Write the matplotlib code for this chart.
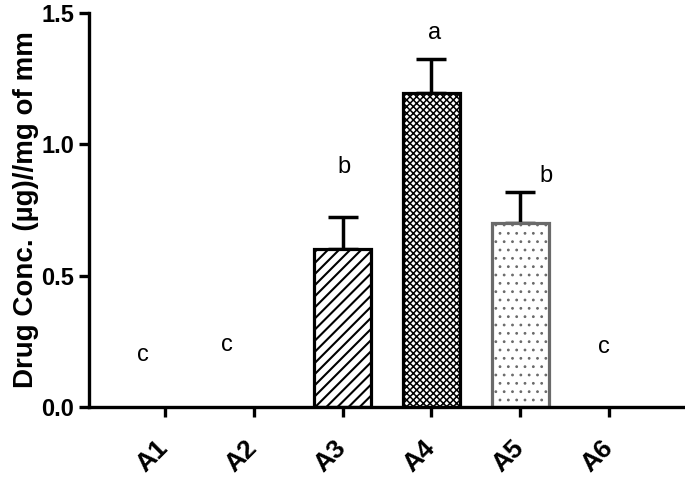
import matplotlib
matplotlib.use("Agg")
import matplotlib.pyplot as plt
import numpy as np

# data
groups = ["A1", "A2", "A3", "A4", "A5", "A6"]
means = [0.0, 0.0, 0.60, 1.195, 0.70, 0.0]
sd_up = [0.0, 0.0, 0.125, 0.13, 0.12, 0.0]
letters = ["c", "c", "b", "a", "b", "c"]
letter_x = [-0.24, 0.70, 2.02, 3.03, 4.29, 4.94]
letter_y = [0.20, 0.235, 0.915, 1.425, 0.88, 0.23]

plt.rcParams['font.family'] = ['Liberation Sans', 'DejaVu Sans']

fig = plt.figure(figsize=(6.85, 4.79), dpi=100)
ax = fig.add_axes([0.130, 0.150, 0.870, 0.823])

x = np.arange(len(groups))
# fill style per group: (face, edge, hatch, hatch line width)
styles = {
    "A3": ("white", "black", "///", 1.5),
    "A4": ("white", "black", "xxxxx", 1.1),
    "A5": ("white", "#6a6a6a", "..", 0.8),
}
for i, g in enumerate(groups):
    if means[i] <= 0:
        continue
    fc, ec, htch, hlw = styles[g]
    with plt.rc_context({"hatch.linewidth": hlw}):
        ax.bar(x[i], means[i], width=0.65, linewidth=2.3, zorder=2,
               facecolor=fc, edgecolor=ec, hatch=htch)
    ax.errorbar(x[i], means[i], yerr=[[0], [sd_up[i]]], fmt="none",
                ecolor="black", elinewidth=2.5, capsize=10.5, capthick=2.5, zorder=1)

for lx, ly, t in zip(letter_x, letter_y, letters):
    ax.text(lx, ly, t, fontsize=17, ha="center", va="center")

ax.set_xlim(-0.85, 5.85)
ax.set_ylim(0, 1.5)
ax.set_yticks([0.0, 0.5, 1.0, 1.5])
ax.set_yticklabels(["0.0", "0.5", "1.0", "1.5"])
ax.set_xticks(x)
ax.set_xticklabels(groups, rotation=45, ha="right", va="center",
                   rotation_mode="anchor")

for s in ["top", "right"]:
    ax.spines[s].set_visible(False)
for s in ["left", "bottom"]:
    ax.spines[s].set_linewidth(2.4)
ax.tick_params(axis="both", width=2.4, length=7)
ax.tick_params(axis="y", labelsize=17)
ax.tick_params(axis="x", labelsize=19, pad=20)
for lab in ax.get_xticklabels() + ax.get_yticklabels():
    lab.set_fontweight("bold")

ax.set_ylabel("Drug Conc. (µg)//mg of mm", fontsize=20, fontweight="bold", labelpad=2)

fig.savefig("out.png", dpi=100)
